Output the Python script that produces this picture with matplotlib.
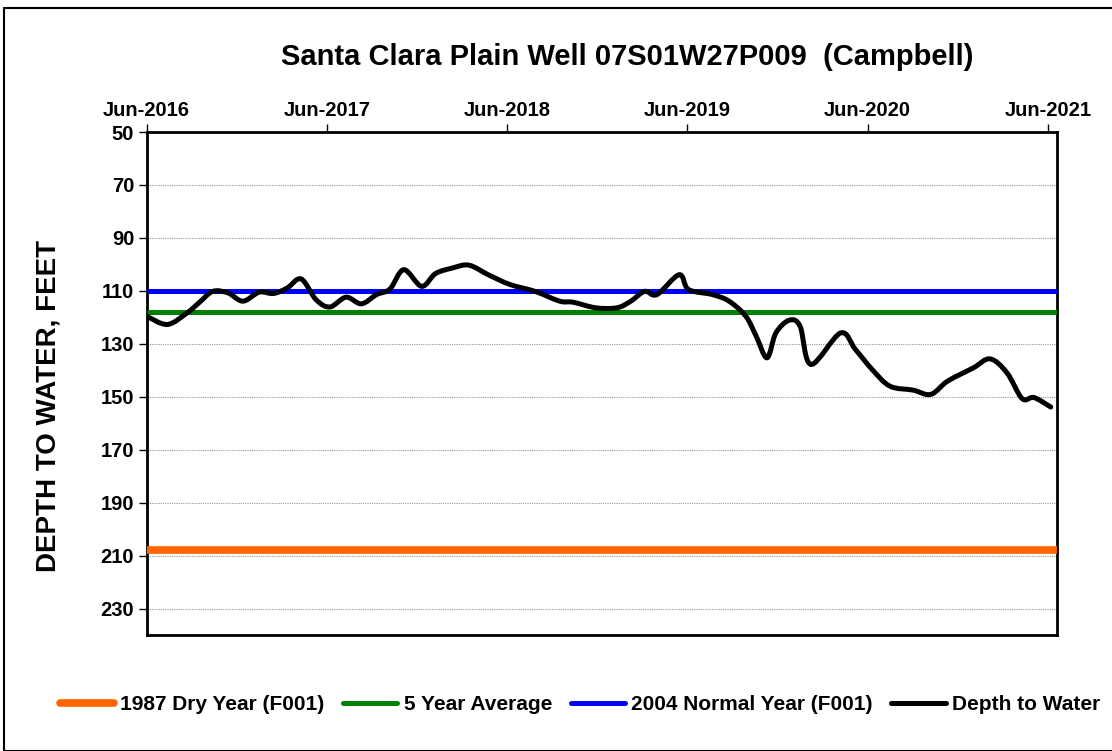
import matplotlib
matplotlib.use("Agg")
import matplotlib.pyplot as plt
import matplotlib.dates as mdates
from matplotlib.patches import Rectangle, PathPatch
from matplotlib.path import Path
from matplotlib.lines import Line2D
import numpy as np
import pandas as pd

plt.rcParams['font.family'] = ['Liberation Sans', 'DejaVu Sans']

# ---- data ----
dates = ["2016-06-01", "2016-07-13", "2016-08-22", "2016-09-15", "2016-10-13",
         "2016-11-13", "2016-12-13", "2017-01-15", "2017-02-13", "2017-03-13",
         "2017-04-10", "2017-05-10", "2017-06-07", "2017-07-10", "2017-08-10",
         "2017-09-10", "2017-10-07", "2017-11-04", "2017-12-10", "2018-01-07",
         "2018-02-10", "2018-03-16", "2018-04-25", "2018-06-07", "2018-07-28",
         "2018-09-16", "2018-10-13", "2018-11-28", "2019-01-10", "2019-02-07",
         "2019-03-07", "2019-04-01", "2019-05-16", "2019-06-04", "2019-07-22",
         "2019-08-25", "2019-09-28", "2019-10-19", "2019-11-10", "2019-11-28",
         "2019-12-25", "2020-01-16", "2020-02-07", "2020-04-07", "2020-05-07",
         "2020-06-10", "2020-07-16", "2020-09-01", "2020-10-07", "2020-11-10",
         "2021-01-01", "2021-02-04", "2021-03-10", "2021-04-10", "2021-05-04",
         "2021-06-07"]
depth = [119.6, 122.7, 118.3, 114.5, 110.2,
         110.8, 113.9, 110.5, 111.0, 108.9,
         105.5, 113.3, 116.1, 112.4, 114.9,
         111.4, 109.3, 102.0, 108.3, 103.5,
         101.4, 100.3, 104.0, 107.6, 110.2,
         113.9, 114.3, 116.4, 116.4, 113.9,
         110.2, 111.4, 103.9, 109.5, 111.4,
         113.9, 119.6, 127.1, 135.3, 125.9,
         121.1, 123.4, 137.8, 125.9, 132.1,
         139.7, 146.0, 147.5, 149.1, 144.1,
         139.1, 135.7, 140.9, 150.7, 150.3,
         153.9]
dry_1987 = 208
avg_5yr = 118
normal_2004 = 110
tick_dates = ["2016-06-01", "2017-06-01", "2018-06-01", "2019-06-01", "2020-06-01", "2021-06-01"]
y_ticks = [50, 70, 90, 110, 130, 150, 170, 190, 210, 230]

title = "Santa Clara Plain Well 07S01W27P009  (Campbell)"
ylabel = "DEPTH TO WATER, FEET"

# ---- figure ----
fig = plt.figure(figsize=(11.12, 7.51), dpi=100)
fig.patches.append(Rectangle((4/1112, 0), 1.2, 1 - 8/751, transform=fig.transFigure,
                             fill=False, edgecolor='black', linewidth=1.5))
ax = fig.add_axes([146.7/1112, 1 - 635/751, (1056.7-146.7)/1112, (635-132)/751])

xmin = pd.Timestamp("2016-06-01")
xmax = pd.Timestamp("2021-06-19")

ax.plot([xmin, xmax], [dry_1987]*2, color='#FF6600', lw=5.5, solid_capstyle='butt', zorder=3)
ax.plot([xmin, xmax], [avg_5yr]*2, color='#008000', lw=3.6, solid_capstyle='butt', zorder=3)
ax.plot([xmin, xmax], [normal_2004]*2, color='#0000FF', lw=3.6, solid_capstyle='butt', zorder=3)

# smoothed (Excel-style) line: Catmull-Rom rendered as cubic Bezier path
xs = mdates.date2num(pd.to_datetime(dates).to_pydatetime())
ys = np.array(depth, dtype=float)
n = len(xs)
verts = [(xs[0], ys[0])]
codes = [Path.MOVETO]
t = 1/6
for i in range(n - 1):
    p0 = (xs[max(i-1, 0)], ys[max(i-1, 0)])
    p1 = (xs[i], ys[i])
    p2 = (xs[i+1], ys[i+1])
    p3 = (xs[min(i+2, n-1)], ys[min(i+2, n-1)])
    c1 = (p1[0] + (p2[0]-p0[0])*t, p1[1] + (p2[1]-p0[1])*t)
    c2 = (p2[0] - (p3[0]-p1[0])*t, p2[1] - (p3[1]-p1[1])*t)
    verts += [c1, c2, p2]
    codes += [Path.CURVE4]*3
ax.add_patch(PathPatch(Path(verts, codes), facecolor='none', edgecolor='black', lw=3.6,
                       joinstyle='round', capstyle='round', zorder=4))

ax.set_xlim(xmin, xmax)
ax.set_ylim(240, 50)
ax.set_yticks(y_ticks)
ax.set_xticks(pd.to_datetime(tick_dates))
ax.xaxis.set_major_formatter(mdates.DateFormatter('%b-%Y'))
ax.xaxis.tick_top()
ax.tick_params(axis='both', direction='out', length=6, width=1, labelsize=14.5, pad=3)
for lab in ax.get_xticklabels() + ax.get_yticklabels():
    lab.set_fontweight('bold')
ax.yaxis.grid(True, linestyle=(0, (1, 1)), color='#999999', linewidth=0.8)
ax.set_axisbelow(True)
for s in ax.spines.values():
    s.set_linewidth(2)

ax.set_ylabel(ylabel, fontsize=20, fontweight='bold')
ax.yaxis.set_label_coords((62 - 146.7) / 910, 0.456)
fig.text(627/1112, 1 - 57/751, title, ha='center', va='center', fontsize=21, fontweight='bold')

handles = [Line2D([], [], color='#FF6600', lw=5.5, solid_capstyle='round'),
           Line2D([], [], color='#008000', lw=3.6, solid_capstyle='round'),
           Line2D([], [], color='#0000FF', lw=3.6, solid_capstyle='round'),
           Line2D([], [], color='black', lw=3.6, solid_capstyle='round')]
labels = ['1987 Dry Year (F001)', '5 Year Average', '2004 Normal Year (F001)', 'Depth to Water']
fig.legend(handles, labels, loc='center', bbox_to_anchor=(580/1112, 1 - 705/751), ncol=4,
           frameon=False, prop={'size': 15, 'weight': 'bold'}, handlelength=2.6,
           handletextpad=0.3, columnspacing=0.9)

fig.savefig("out.png", dpi=100)
